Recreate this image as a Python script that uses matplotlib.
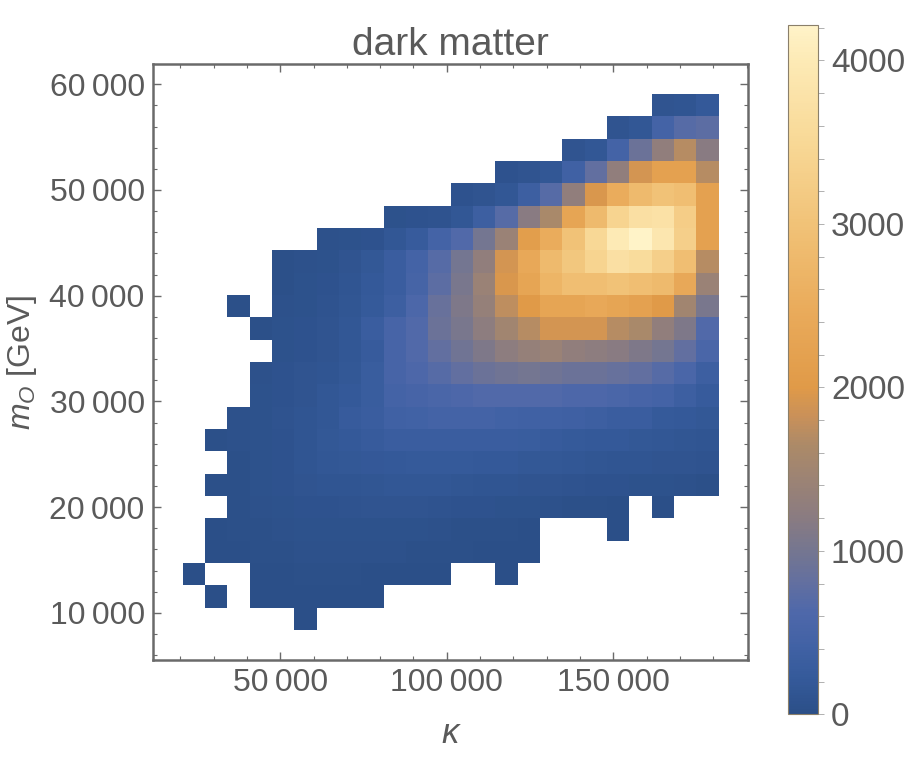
import numpy as np
import matplotlib
matplotlib.use("Agg")
import matplotlib.pyplot as plt
from matplotlib.colors import LinearSegmentedColormap
from matplotlib.ticker import MultipleLocator, FuncFormatter, FixedLocator

plt.rcParams['font.family'] = ['Liberation Sans', 'DejaVu Sans']
plt.rcParams['mathtext.fontset'] = 'custom'
plt.rcParams['mathtext.it'] = 'Liberation Sans:italic'
plt.rcParams['mathtext.rm'] = 'Liberation Sans'

# ---------------- data ----------------
title = "dark matter"
x_label = "κ"
y_label = r"$m_O$ [GeV]"

kappa_min, kappa_max, n_kappa_bins = 20690, 181620, 24
mO_min, mO_max, n_mO_bins = 8373, 59082, 24

# counts per bin, rows from highest m_O (top) to lowest (bottom); 0 = empty bin
counts_top_to_bottom = [
    [0]*21 + [100, 120, 200],
    [0]*19 + [100, 150, 450, 700, 750],
    [0]*17 + [100, 150, 450, 900, 1300, 1700, 1200],
    [0]*14 + [80, 100, 150, 400, 800, 1300, 1900, 2200, 2200, 1700],
    [0]*12 + [80, 100, 150, 350, 700, 1300, 1950, 2500, 2800, 3000, 2900, 2200],
    [0]*9 + [60, 70, 90, 150, 350, 700, 1200, 1600, 2300, 2800, 3400, 3700, 3750, 3250, 2200],
    [0]*6 + [40, 50, 70, 150, 250, 450, 650, 1000, 1400, 2100, 2500, 3000, 3500, 4000, 4200, 3900, 3300, 2200],
    [0]*4 + [30, 40, 60, 100, 180, 300, 450, 700, 1000, 1300, 1900, 2400, 2800, 3100, 3400, 3700, 3600, 3300, 2900, 1700],
    [0]*4 + [30, 50, 80, 120, 200, 300, 480, 750, 1050, 1400, 1950, 2300, 2700, 2900, 2900, 3000, 2900, 2800, 2400, 1400],
    [0, 0, 20, 0] + [40, 60, 90, 140, 220, 350, 580, 870, 1100, 1350, 1750, 2000, 2300, 2300, 2400, 2300, 2200, 2000, 1500, 1050],
    [0]*3 + [30, 50, 70, 100, 150, 300, 500, 650, 900, 1050, 1250, 1500, 1700, 1900, 1900, 1900, 1700, 1600, 1300, 1100, 650],
    [0]*4 + [60, 80, 100, 150, 250, 500, 650, 800, 950, 1100, 1250, 1350, 1400, 1300, 1250, 1200, 1100, 1000, 800, 550],
    [0]*3 + [40, 70, 100, 130, 180, 280, 500, 600, 700, 800, 900, 950, 1000, 950, 900, 900, 850, 800, 700, 550, 350],
    [0]*3 + [50, 80, 110, 150, 200, 280, 450, 500, 550, 600, 650, 650, 650, 650, 600, 600, 550, 500, 450, 350, 250],
    [0]*2 + [40, 60, 90, 130, 150, 250, 300, 400, 420, 450, 450, 450, 420, 400, 400, 380, 350, 300, 300, 230, 200, 180],
    [0] + [20, 40, 60, 80, 120, 180, 200, 250, 300, 300, 300, 300, 300, 300, 280, 260, 220, 200, 200, 180, 160, 140, 120],
    [0]*2 + [30, 50, 80, 120, 150, 170, 190, 200, 220, 220, 220, 200, 200, 180, 170, 150, 140, 130, 120, 110, 100, 90],
    [0] + [20, 30, 50, 70, 100, 120, 130, 140, 150, 150, 150, 140, 130, 120, 110, 100, 90, 80, 70, 60, 50, 40, 30],
    [0]*2 + [20, 40, 50, 70, 80, 90, 100, 100, 100, 90, 80, 70, 60, 50, 40, 30, 20, 15] + [0, 10, 0, 0],
    [0] + [10, 20, 30, 40, 50, 60, 60, 60, 60, 50, 40, 30, 25, 20, 15] + [0, 0, 0, 5, 0, 0, 0, 0],
    [0] + [10, 15, 20, 30, 35, 40, 40, 40, 35, 30, 25, 20, 15, 10, 5] + [0]*8,
    [5, 0, 0] + [10, 15, 20, 20, 20, 15, 10, 8, 5] + [0, 0, 3] + [0]*9,
    [0, 3, 0] + [5, 8, 10, 10, 8, 5] + [0]*15,
    [0]*5 + [2] + [0]*18,
]

x_ticks = [50000, 100000, 150000]
y_ticks = [10000, 20000, 30000, 40000, 50000, 60000]
cbar_ticks = [0, 1000, 2000, 3000, 4000]
cbar_max = 4215

# ---------------- colormap (Mathematica-like density gradient) ----------------
cmap_stops = [
    (0.000, "#2b4f88"),
    (0.050, "#355a9a"),
    (0.100, "#4262a5"),
    (0.147, "#4e68aa"),
    (0.195, "#65709e"),
    (0.237, "#757690"),
    (0.290, "#8c7c80"),
    (0.390, "#ac8a68"),
    (0.430, "#c8905a"),
    (0.475, "#e09a48"),
    (0.593, "#eaac5c"),
    (0.712, "#f1c277"),
    (0.830, "#f8d896"),
    (0.950, "#fdeab5"),
    (1.000, "#fff3c8"),
]
cmap = LinearSegmentedColormap.from_list("m10density", cmap_stops)

# ---------------- figure ----------------
W, H = 917, 772
fig = plt.figure(figsize=(W/100, H/100), dpi=100)
ax = fig.add_axes([153/W, 1 - 660/H, 595/W, (660 - 64.3)/H])
cax = fig.add_axes([788.3/W, 1 - 714.3/H, 29.4/W, 689/H])

counts = np.array(counts_top_to_bottom[::-1], dtype=float)
masked = np.ma.masked_where(counts <= 0, counts)
xe = np.linspace(kappa_min, kappa_max, n_kappa_bins + 1)
ye = np.linspace(mO_min, mO_max, n_mO_bins + 1)
mesh = ax.pcolormesh(xe, ye, masked, cmap=cmap, vmin=0, vmax=cbar_max,
                     shading='flat', edgecolors='none', antialiased=False)

ax.set_xlim(11810, 190410)
ax.set_ylim(5535, 61890)

text_color = "#5a5a5a"
frame_color = "#6a6a6a"
for s in ax.spines.values():
    s.set_color(frame_color)
    s.set_linewidth(1.8)

fmt = FuncFormatter(lambda v, p: f"{int(round(v)):,}".replace(",", "\u2009"))
ax.xaxis.set_major_locator(FixedLocator(x_ticks))
ax.xaxis.set_minor_locator(MultipleLocator(10000))
ax.yaxis.set_major_locator(FixedLocator(y_ticks))
ax.yaxis.set_minor_locator(MultipleLocator(2000))
ax.xaxis.set_major_formatter(fmt)
ax.yaxis.set_major_formatter(fmt)
ax.tick_params(which='both', direction='in', top=True, right=True,
               color=frame_color, labelcolor=text_color, labelsize=23)
ax.tick_params(which='major', length=5.5, width=1.0, pad=6)
ax.tick_params(which='minor', length=3.2, width=0.8)

ax.set_title(title, fontsize=28, color=text_color, pad=6.5)
ax.set_xlabel(x_label, fontsize=25, color=text_color, fontstyle='italic')
ax.xaxis.label.set_verticalalignment('baseline')
ax.xaxis.set_label_coords(0.5, (660 - 743.3) / 595.7)
ax.set_ylabel(y_label, fontsize=23, color=text_color)
ax.yaxis.label.set_verticalalignment('center')
ax.yaxis.set_label_coords((22 - 153) / 595, 0.5)

cb = fig.colorbar(mesh, cax=cax)
cb.set_ticks(cbar_ticks)
cb.ax.yaxis.set_minor_locator(MultipleLocator(200))
cb.ax.tick_params(which='both', direction='out', length=4.5, width=0.7,
                  color='#b0b0b0', labelcolor=text_color, labelsize=24, pad=5)
cb.outline.set_edgecolor('#8a7f6a')
cb.outline.set_linewidth(0.8)

fig.savefig("out.png", dpi=100, facecolor="white")
